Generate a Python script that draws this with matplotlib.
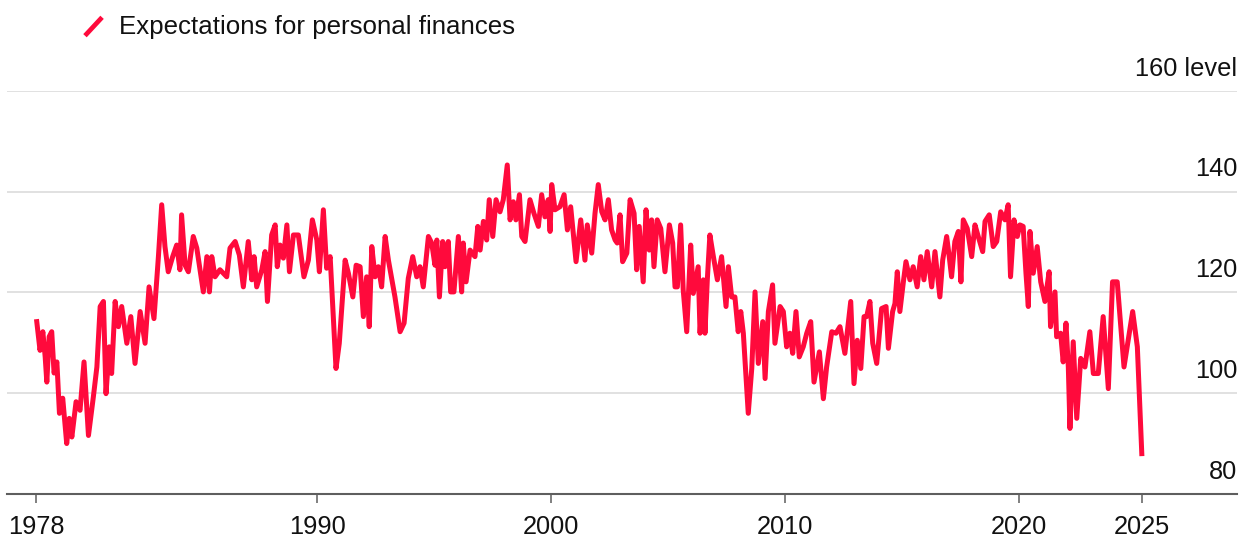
import matplotlib.pyplot as plt
from matplotlib.lines import Line2D
from matplotlib.transforms import blended_transform_factory

# Data: University of Michigan survey, expectations for personal finances
# (decimal years)
years = [
    1978.02, 1978.16, 1978.28, 1978.38, 1978.45, 1978.55, 1978.66, 1978.76, 1978.88, 1978.99,
    1979.13, 1979.30, 1979.41, 1979.52, 1979.70, 1979.87, 1980.04, 1980.23, 1980.44, 1980.59,
    1980.73, 1980.87, 1980.98, 1981.12, 1981.22, 1981.37, 1981.51, 1981.65, 1981.87, 1982.04,
    1982.22, 1982.44, 1982.65, 1982.82, 1983.03, 1983.22, 1983.36, 1983.50, 1983.64, 1983.83,
    1984.00, 1984.14, 1984.21, 1984.36, 1984.50, 1984.71, 1984.86, 1985.00, 1985.14, 1985.29,
    1985.40, 1985.50, 1985.64, 1985.85, 1986.14, 1986.28, 1986.50, 1986.68, 1986.85, 1987.06,
    1987.21, 1987.31, 1987.42, 1987.64, 1987.78, 1987.88, 1988.06, 1988.21, 1988.30, 1988.42,
    1988.56, 1988.71, 1988.82, 1988.99, 1989.20, 1989.44, 1989.63, 1989.80, 1989.99, 1990.10,
    1990.27, 1990.41, 1990.56, 1990.81, 1990.95, 1991.20, 1991.34, 1991.53, 1991.67, 1991.84,
    1991.98, 1992.12, 1992.23, 1992.34, 1992.48, 1992.62, 1992.76, 1992.91, 1993.05, 1993.33,
    1993.55, 1993.72, 1993.90, 1994.09, 1994.26, 1994.40, 1994.54, 1994.76, 1994.90, 1995.04,
    1995.12, 1995.23, 1995.37, 1995.47, 1995.61, 1995.71, 1995.85, 1996.04, 1996.18, 1996.25,
    1996.37, 1996.54, 1996.75, 1996.87, 1996.97, 1997.11, 1997.25, 1997.36, 1997.51, 1997.65,
    1997.82, 1997.96, 1998.13, 1998.25, 1998.39, 1998.50, 1998.65, 1998.75, 1998.89, 1999.10,
    1999.27, 1999.46, 1999.60, 1999.74, 1999.88, 1999.96, 2000.03, 2000.17, 2000.38, 2000.56,
    2000.70, 2000.84, 2001.07, 2001.27, 2001.45, 2001.55, 2001.74, 2001.88, 2002.02, 2002.17,
    2002.31, 2002.45, 2002.59, 2002.74, 2002.83, 2002.95, 2003.06, 2003.24, 2003.38, 2003.55,
    2003.66, 2003.77, 2003.94, 2004.06, 2004.20, 2004.30, 2004.40, 2004.54, 2004.69, 2004.87,
    2005.06, 2005.20, 2005.30, 2005.40, 2005.54, 2005.65, 2005.80, 2005.97, 2006.08, 2006.29,
    2006.37, 2006.51, 2006.58, 2006.68, 2006.79, 2006.94, 2007.11, 2007.29, 2007.48, 2007.58,
    2007.72, 2007.86, 2008.00, 2008.11, 2008.22, 2008.43, 2008.58, 2008.72, 2008.86, 2009.05,
    2009.15, 2009.29, 2009.47, 2009.57, 2009.79, 2009.93, 2010.07, 2010.21, 2010.33, 2010.47,
    2010.61, 2010.78, 2010.93, 2011.10, 2011.24, 2011.47, 2011.64, 2011.78, 2012.00, 2012.18,
    2012.35, 2012.56, 2012.81, 2012.95, 2013.09, 2013.24, 2013.38, 2013.49, 2013.63, 2013.75,
    2013.92, 2014.13, 2014.32, 2014.42, 2014.60, 2014.70, 2014.80, 2014.91, 2015.06, 2015.17,
    2015.34, 2015.48, 2015.65, 2015.80, 2015.94, 2016.08, 2016.27, 2016.41, 2016.62, 2016.74,
    2016.91, 2017.02, 2017.12, 2017.26, 2017.41, 2017.52, 2017.62, 2017.79, 2017.98, 2018.12,
    2018.26, 2018.45, 2018.55, 2018.73, 2018.90, 2019.05, 2019.22, 2019.40, 2019.54, 2019.64,
    2019.79, 2019.93, 2020.04, 2020.18, 2020.30, 2020.40, 2020.47, 2020.61, 2020.78, 2020.93,
    2021.11, 2021.29, 2021.35, 2021.54, 2021.61, 2021.78, 2021.89, 2022.01, 2022.11, 2022.18,
    2022.32, 2022.47, 2022.64, 2022.82, 2023.03, 2023.18, 2023.39, 2023.60, 2023.82, 2024.00,
    2024.20, 2024.49, 2024.67, 2024.86, 2025.06, 2025.25,
]
values = [
    114.2, 108.5, 112.2, 107.2, 102.2, 111.2, 112.2, 104.0, 106.2, 96.0,
    99.0, 90.0, 95.0, 91.3, 98.3, 96.6, 106.2, 91.6, 99.3, 105.2,
    117.2, 118.2, 99.9, 109.2, 103.9, 118.2, 113.2, 117.2, 109.9, 115.2,
    105.9, 116.2, 109.9, 121.1, 114.8, 127.1, 137.4, 129.1, 124.1, 127.1,
    129.4, 124.5, 135.4, 125.4, 124.1, 131.1, 128.8, 124.5, 120.1, 127.1,
    120.1, 127.1, 123.1, 124.5, 123.1, 128.8, 130.1, 127.4, 121.1, 130.1,
    122.5, 127.1, 121.1, 124.5, 128.1, 118.2, 131.4, 133.4, 125.1, 129.4,
    126.8, 133.4, 124.1, 131.4, 131.4, 123.1, 126.4, 134.4, 130.4, 124.1,
    136.4, 124.8, 127.1, 104.9, 109.9, 126.4, 123.8, 119.1, 125.4, 125.1,
    115.2, 123.1, 113.2, 129.1, 123.1, 125.1, 121.1, 131.1, 126.4, 119.1,
    112.2, 113.9, 122.8, 127.1, 123.1, 125.1, 121.1, 131.1, 129.8, 125.4,
    130.4, 119.1, 130.1, 125.1, 130.1, 120.1, 120.1, 131.1, 120.1, 129.8,
    122.1, 128.4, 127.1, 133.1, 128.4, 134.1, 130.4, 138.4, 131.1, 138.4,
    136.0, 138.4, 145.3, 134.4, 138.0, 134.4, 139.4, 131.1, 130.1, 138.4,
    135.7, 133.1, 139.4, 135.0, 138.4, 132.1, 141.4, 136.4, 137.0, 139.4,
    132.4, 137.0, 126.1, 134.4, 126.4, 133.4, 127.8, 135.7, 141.4, 136.0,
    134.4, 138.4, 132.4, 130.4, 129.8, 135.4, 126.1, 127.8, 138.4, 135.7,
    124.5, 133.1, 122.1, 136.4, 128.4, 134.4, 125.1, 134.4, 132.7, 124.1,
    133.4, 129.8, 121.1, 121.1, 133.4, 120.5, 112.2, 129.4, 119.8, 125.1,
    111.9, 122.5, 111.9, 122.5, 131.4, 127.1, 122.5, 127.1, 117.2, 125.1,
    119.1, 119.1, 112.2, 116.2, 111.9, 96.0, 104.9, 120.1, 105.9, 114.2,
    102.9, 116.2, 121.5, 109.9, 117.2, 116.2, 109.2, 111.9, 107.9, 116.2,
    107.2, 109.2, 111.9, 114.2, 102.2, 108.2, 98.9, 105.2, 112.2, 111.9,
    113.2, 107.9, 118.2, 101.9, 110.5, 104.9, 115.2, 115.2, 118.2, 109.9,
    105.9, 116.8, 117.2, 108.9, 116.2, 117.8, 124.1, 116.2, 122.1, 126.1,
    122.5, 125.1, 121.1, 127.1, 122.5, 128.1, 121.1, 128.1, 119.1, 126.4,
    131.1, 127.1, 123.1, 130.1, 132.1, 122.1, 134.4, 132.7, 127.1, 133.4,
    131.1, 128.1, 134.1, 135.4, 129.1, 130.1, 136.0, 134.4, 137.4, 123.1,
    134.4, 131.1, 133.4, 133.1, 123.8, 117.2, 132.1, 123.8, 129.1, 122.1,
    118.2, 124.1, 113.2, 120.1, 111.2, 111.9, 106.2, 113.9, 105.2, 93.0,
    110.2, 95.0, 106.9, 105.2, 112.2, 103.9, 103.9, 115.2, 100.9, 122.1,
    122.1, 105.2, 110.5, 116.2, 109.2, 88.0,
]

x_ticks = [1978, 1990, 2000, 2010, 2020, 2025.25]
x_labels = ["1978", "1990", "2000", "2010", "2020", "2025"]
y_ticks = [80, 100, 120, 140, 160]
y_labels = ["80", "100", "120", "140", "160 level"]

red = "#ff0a3c"
text_color = "#111111"

plt.rcParams["font.family"] = ["Liberation Sans", "DejaVu Sans"]

fig = plt.figure(figsize=(12.57, 5.41), dpi=100)
ax = fig.add_axes([0.0056, 0.087, 0.9785, 0.745])

# gridlines
for v in y_ticks[1:]:
    ax.axhline(v, color="#dcdcdc", lw=1.2, zorder=1)

ax.plot(years, values, color=red, lw=3.6, solid_joinstyle="round", zorder=3)

ax.set_xlim(1976.75, 2029.32)
ax.set_ylim(80, 160)

for s in ["top", "right", "left"]:
    ax.spines[s].set_visible(False)
ax.spines["bottom"].set_color("#5e5e5e")
ax.spines["bottom"].set_linewidth(1.5)

ax.set_xticks(x_ticks)
ax.set_xticklabels(x_labels)
ax.tick_params(axis="x", length=6.5, width=1.1, color="#5e5e5e", pad=9,
               labelsize=18.3, labelcolor=text_color)
ax.set_yticks([])

# y labels sit above each gridline, right aligned
tr = blended_transform_factory(ax.transAxes, ax.transData)
for v, lab in zip(y_ticks, y_labels):
    ax.annotate(lab, xy=(1, v), xycoords=tr, xytext=(0, 11),
                textcoords="offset points", ha="right", va="baseline",
                fontsize=18.3, color=text_color, annotation_clip=False)

# legend
fig.add_artist(Line2D([0.0676, 0.0812], [0.934, 0.968], transform=fig.transFigure,
                      color=red, lw=3.4, solid_capstyle="butt"))
fig.text(0.0950, 0.950, "Expectations for personal finances", fontsize=18.6,
         color=text_color, va="center", ha="left")

fig.savefig("out.png", dpi=100)
